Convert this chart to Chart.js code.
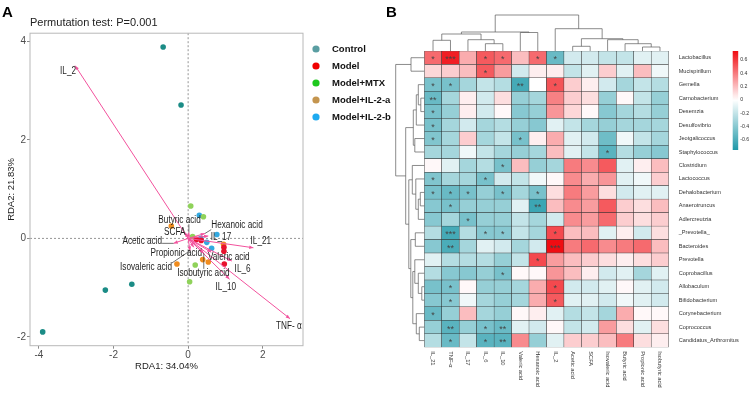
<!DOCTYPE html>
<html>
<head>
<meta charset="utf-8">
<script src="https://cdn.jsdelivr.net/npm/chart.js@4.4.1/dist/chart.umd.min.js"></script>
<style>
  html, body { margin: 0; padding: 0; background: #fff; }
  #wrap { position: relative; width: 750px; height: 394px; overflow: hidden; }
  #rdaChart { position: absolute; left: 0; top: 0; }
  #heatChart { position: absolute; left: 380px; top: 0; }
</style>
</head>
<body>
<div id="wrap">
  <canvas id="rdaChart" width="400" height="394"></canvas>
  <canvas id="heatChart" width="370" height="394"></canvas>
</div>
<script>
// ---------- Panel A: RDA biplot ----------
const groupNames = ['Control', 'Model', 'Model+MTX', 'Model+IL-2-a', 'Model+IL-2-b'];
const controlPts = [[-0.67, 3.89], [-0.19, 2.71], [-1.51, -0.93], [-2.22, -1.05], [-3.90, -1.90]];
const modelPts = [[0.96, -0.18], [0.96, -0.26], [0.97, -0.52], [0.35, -0.04], [0.22, -0.02]];
const mtxPts = [[0.07, 0.66], [0.41, 0.44], [0.19, -0.54], [0.04, -0.88], [0.12, 0.04]];
const il2aPts = [[-0.45, 0.25], [-0.30, -0.52], [0.39, -0.43], [0.54, -0.48], [0.95, -0.12]];
const il2bPts = [[0.30, 0.47], [0.77, 0.08], [0.34, 0.00], [0.63, -0.20], [0.50, -0.08]];

// environmental vectors (arrow tips)
const envNames = ['IL_2', 'TNF- α', 'IL_21', 'IL_10', 'IL_6', 'IL_17', 'Hexanoic acid', 'Valeric acid',
  'Acetic acid', 'Isovaleric acid', 'Propionic acid', 'Isobutyric acid', 'Butyric acid', 'SCFA'];
const envX = [-3.03, 2.73, 1.75, 1.11, 1.17, 0.54, 0.45, 0.62, -0.39, 0.05, 0.15, 0.42, 0.02, -0.08];
const envY = [3.51, -1.63, -0.19, -0.83, -0.46, 0.05, 0.10, -0.28, -0.10, -0.25, -0.18, -0.30, 0.12, 0.12];

const xTicks = [-4, -2, 0, 2];
const yTicks = [-2, 0, 2, 4];

// ---------- Panel B: correlation heatmap ----------
const colNames = ['IL_21', 'TNF-α', 'IL_17', 'IL_6', 'IL_10', 'Valeric acid', 'Hexanoic acid', 'IL_2',
  'Acetic acid', 'SCFA', 'Isovaleric acid', 'Butyric acid', 'Propionic acid', 'Isobutyric acid'];
const rowNames = ['Lactobacillus', 'Mucispirillum', 'Gemella', 'Carnobacterium', 'Desemzia', 'Desulfovibrio',
  'Jeotgalicoccus', 'Staphylococcus', 'Clostridium', 'Lactococcus', 'Dehalobacterium', 'Anaerotruncus',
  'Adlercreutzia', '_Prevotella_', 'Bacteroides', 'Prevotella', 'Coprobacillus', 'Allobaculum',
  'Bifidobacterium', 'Corynebacterium', 'Coprococcus', 'Candidatus_Arthromitus'];
const corrValues = [
  [0.45, 0.68, 0.25, 0.50, 0.45, 0.20, 0.45, -0.50, -0.15, -0.15, -0.20, -0.20, -0.10, -0.10],
  [0.12, 0.15, 0.20, 0.50, 0.30, -0.15, 0.05, 0.05, -0.20, -0.10, 0.15, -0.10, 0.20, -0.05],
  [-0.45, -0.45, -0.30, -0.20, -0.25, -0.62, 0.00, 0.52, 0.15, 0.05, -0.15, -0.30, -0.20, -0.25],
  [-0.50, -0.30, 0.05, -0.15, 0.10, -0.35, -0.30, 0.38, 0.15, 0.10, -0.35, 0.02, -0.20, -0.35],
  [-0.45, -0.35, 0.05, -0.15, 0.02, -0.40, -0.35, 0.32, 0.12, 0.02, -0.40, -0.30, -0.25, -0.35],
  [-0.45, -0.30, -0.15, -0.30, -0.25, -0.35, -0.40, -0.10, -0.20, -0.30, -0.35, -0.30, -0.30, -0.30],
  [-0.42, -0.30, 0.15, -0.30, -0.20, -0.45, 0.05, 0.25, -0.10, -0.15, -0.48, -0.05, -0.20, -0.30],
  [-0.30, -0.30, -0.05, -0.20, -0.30, -0.35, -0.30, 0.20, -0.10, -0.20, -0.55, -0.25, -0.35, -0.40],
  [0.02, -0.10, -0.30, -0.25, -0.45, 0.20, -0.35, -0.30, 0.40, 0.35, 0.50, -0.10, 0.05, 0.20],
  [-0.42, -0.30, -0.30, -0.45, -0.15, -0.20, -0.05, 0.02, 0.35, 0.25, 0.32, -0.10, -0.05, 0.15],
  [-0.45, -0.50, -0.45, -0.35, -0.45, -0.30, -0.45, 0.10, 0.40, 0.30, 0.10, -0.15, -0.10, -0.10],
  [-0.40, -0.45, -0.35, -0.35, -0.35, -0.10, -0.65, 0.20, 0.35, 0.30, 0.50, 0.15, 0.10, 0.20],
  [-0.40, -0.30, -0.45, -0.35, -0.35, -0.20, -0.30, -0.15, 0.35, 0.30, 0.45, 0.15, 0.10, 0.15],
  [-0.25, -0.62, -0.25, -0.40, -0.40, -0.20, -0.30, 0.55, 0.20, 0.20, -0.10, 0.05, -0.15, 0.10],
  [-0.40, -0.60, -0.30, -0.10, -0.15, -0.30, -0.15, 0.75, 0.40, 0.45, 0.35, 0.40, 0.45, 0.20],
  [-0.10, -0.25, -0.25, -0.25, -0.35, -0.20, 0.55, 0.30, 0.20, 0.15, 0.10, 0.05, 0.10, 0.15],
  [-0.25, -0.40, -0.40, -0.35, -0.45, 0.02, 0.02, 0.32, 0.20, 0.05, -0.15, -0.10, -0.30, -0.10],
  [-0.45, -0.45, 0.02, -0.35, -0.35, -0.30, 0.25, 0.55, -0.15, -0.15, -0.10, 0.02, -0.10, -0.15],
  [-0.40, -0.40, -0.05, -0.30, -0.35, -0.30, 0.25, 0.50, -0.10, -0.10, -0.15, -0.05, -0.10, -0.15],
  [-0.50, -0.35, 0.20, -0.30, -0.35, 0.02, 0.05, -0.10, -0.25, -0.20, -0.30, 0.25, 0.02, 0.02],
  [-0.35, -0.55, -0.35, -0.45, -0.50, -0.10, -0.15, 0.02, -0.20, -0.15, 0.30, 0.10, -0.10, 0.10],
  [-0.25, -0.50, -0.20, -0.55, -0.55, 0.35, -0.35, -0.10, 0.15, 0.15, 0.20, 0.40, 0.10, 0.05]
];
const starMarks = [
  ['*', '***', '', '*', '*', '', '*', '*', '', '', '', '', '', ''],
  ['', '', '', '*', '', '', '', '', '', '', '', '', '', ''],
  ['*', '*', '', '', '', '**', '', '*', '', '', '', '', '', ''],
  ['**', '', '', '', '', '', '', '', '', '', '', '', '', ''],
  ['*', '', '', '', '', '', '', '', '', '', '', '', '', ''],
  ['*', '', '', '', '', '', '', '', '', '', '', '', '', ''],
  ['*', '', '', '', '', '*', '', '', '', '', '', '', '', ''],
  ['', '', '', '', '', '', '', '', '', '', '*', '', '', ''],
  ['', '', '', '', '*', '', '', '', '', '', '', '', '', ''],
  ['*', '', '', '*', '', '', '', '', '', '', '', '', '', ''],
  ['*', '*', '*', '', '*', '', '*', '', '', '', '', '', '', ''],
  ['', '*', '', '', '', '', '**', '', '', '', '', '', '', ''],
  ['', '', '*', '', '', '', '', '', '', '', '', '', '', ''],
  ['', '***', '', '*', '*', '', '', '*', '', '', '', '', '', ''],
  ['', '**', '', '', '', '', '', '***', '', '', '', '', '', ''],
  ['', '', '', '', '', '', '*', '', '', '', '', '', '', ''],
  ['', '', '', '', '*', '', '', '', '', '', '', '', '', ''],
  ['', '*', '', '', '', '', '', '*', '', '', '', '', '', ''],
  ['', '*', '', '', '', '', '', '*', '', '', '', '', '', ''],
  ['*', '', '', '', '', '', '', '', '', '', '', '', '', ''],
  ['', '**', '', '*', '**', '', '', '', '', '', '', '', '', ''],
  ['', '*', '', '*', '**', '', '', '', '', '', '', '', '', '']
];
// hclust-style merges: negative = leaf (1-based), positive = earlier merge step
const colMerge = [[-1, -2], [-4, -5], [-3, 2], [1, 3], [-6, -7], [4, 5], [-9, -10], [-13, -14],
  [-12, 8], [-11, 9], [7, 10], [-8, 11], [6, 12]];
const colHeights = [1.07, 0.73, 1.13, 1.70, 1.85, 1.90, 0.47, 0.40, 0.73, 1.13, 1.23, 2.23, 3.60];
const rowMerge = [[-1, -2], [-4, -5], [-3, 2], [-6, 3], [-7, -8], [4, 5], [-11, -12], [7, -13], [-10, 8],
  [-9, 9], [-14, -15], [-18, -19], [-17, 12], [-16, 13], [-21, -22], [-20, 15], [14, 16], [11, 17],
  [10, 18], [6, 19], [1, 20]];
const rowHeights = [1.33, 0.35, 0.60, 0.80, 0.95, 1.10, 0.40, 0.60, 0.85, 1.20, 0.90, 0.25, 0.60, 0.95,
  0.50, 0.80, 1.15, 1.35, 1.55, 1.86, 2.86];
const colorbarTicks = [0.6, 0.4, 0.2, 0, -0.2, -0.4, -0.6];

const SANS = '"Liberation Sans", Arial, sans-serif';
Chart.defaults.font.family = SANS;

const PINK = '#f2529d';
const SQUEEZE = 0.82; // the source figure's text is horizontally condensed

// ---------- helpers ----------
function heatColor(v) {
  const lo = [30, 152, 168], hi = [240, 12, 18], mid = [255, 255, 255];
  const t = v >= 0 ? Math.min(v / 0.735, 1) : Math.min(-v / 0.75, 1);
  const end = v >= 0 ? hi : lo;
  const c = mid.map((m, k) => Math.round(m + (end[k] - m) * t));
  return `rgb(${c[0]},${c[1]},${c[2]})`;
}

function drawDendro(ctx, merge, heights, leafPos, base, unit, top) {
  const nodes = [];
  const at = (ref) => ref < 0 ? { c: leafPos(-ref - 1), h: 0 } : nodes[ref - 1];
  merge.forEach(([a, b], k) => {
    const A = at(a), B = at(b), h = heights[k];
    const P = (hh) => base - hh * unit;
    ctx.beginPath();
    if (top) {
      ctx.moveTo(A.c, P(A.h)); ctx.lineTo(A.c, P(h)); ctx.lineTo(B.c, P(h)); ctx.lineTo(B.c, P(B.h));
    } else {
      ctx.moveTo(P(A.h), A.c); ctx.lineTo(P(h), A.c); ctx.lineTo(P(h), B.c); ctx.lineTo(P(B.h), B.c);
    }
    ctx.stroke();
    nodes.push({ c: (A.c + B.c) / 2, h });
  });
}

// ---------- Panel A plugin ----------
const rdaDecor = {
  id: 'rdaDecor',
  beforeDatasetsDraw(chart) {
    const { ctx, chartArea: a, scales: { x, y } } = chart;
    const x0 = x.getPixelForValue(0), y0 = y.getPixelForValue(0);
    ctx.save();
    ctx.strokeStyle = '#8a8a8a';
    ctx.lineWidth = 0.9;
    ctx.setLineDash([2, 2]);
    ctx.beginPath();
    ctx.moveTo(x0, a.top); ctx.lineTo(x0, a.bottom);
    ctx.moveTo(a.left, y0); ctx.lineTo(a.right, y0);
    ctx.stroke();
    ctx.restore();
  },
  afterDatasetsDraw(chart, args, opts) {
    const { ctx, scales: { x, y } } = chart;
    ctx.save();
    chart.data.datasets.forEach((ds, i) => {
      if (!ds.isArrow) return;
      const pts = chart.getDatasetMeta(i).data;
      const p0 = pts[0], p1 = pts[1];
      const ang = Math.atan2(p1.y - p0.y, p1.x - p0.x);
      ctx.fillStyle = PINK;
      ctx.beginPath();
      ctx.moveTo(p1.x, p1.y);
      ctx.lineTo(p1.x - 4.5 * Math.cos(ang - 0.4), p1.y - 4.5 * Math.sin(ang - 0.4));
      ctx.lineTo(p1.x - 4.5 * Math.cos(ang + 0.4), p1.y - 4.5 * Math.sin(ang + 0.4));
      ctx.closePath();
      ctx.fill();

      const spot = opts.labelSpots[ds.label];
      const lx = x.getPixelForValue(spot[0]), ly = y.getPixelForValue(spot[1]);
      ctx.font = `10px ${SANS}`;
      const w = ctx.measureText(ds.label).width * SQUEEZE, h = 8;
      const nx = Math.max(lx - w / 2, Math.min(p1.x, lx + w / 2));
      const ny = Math.max(ly - h / 2, Math.min(p1.y, ly + h / 2));
      if (Math.hypot(nx - p1.x, ny - p1.y) > 5) {
        ctx.strokeStyle = '#333';
        ctx.lineWidth = 0.7;
        ctx.beginPath(); ctx.moveTo(nx, ny); ctx.lineTo(p1.x, p1.y); ctx.stroke();
      }
      ctx.save();
      ctx.translate(lx, ly);
      ctx.scale(SQUEEZE, 1);
      ctx.fillStyle = '#1e1e1e';
      ctx.textAlign = 'center';
      ctx.textBaseline = 'middle';
      ctx.fillText(ds.label, 0, 0);
      ctx.restore();
    });
    ctx.restore();
  },
  afterDraw(chart, args, opts) {
    const { ctx, chartArea: a } = chart;
    ctx.save();
    ctx.strokeStyle = '#b8b8b8';
    ctx.lineWidth = 1;
    ctx.strokeRect(a.left, a.top, a.right - a.left, a.bottom - a.top);
    ctx.fillStyle = '#000';
    ctx.font = `bold 15px ${SANS}`;
    ctx.textBaseline = 'alphabetic';
    ctx.fillText('A', 2, 17);
    // legend
    const items = chart.data.datasets.filter(d => d.legendColor);
    items.forEach((d, k) => {
      const cy = opts.legendTop + k * opts.legendGap;
      const cx = a.right + 13;
      ctx.fillStyle = d.legendColor;
      ctx.beginPath(); ctx.arc(cx, cy, 3.6, 0, Math.PI * 2); ctx.fill();
      ctx.fillStyle = '#111';
      ctx.font = `bold 9.5px ${SANS}`;
      ctx.textAlign = 'left';
      ctx.textBaseline = 'middle';
      ctx.fillText(d.label, cx + 16, cy);
    });
    ctx.restore();
  }
};

const pointSets = [controlPts, modelPts, mtxPts, il2aPts, il2bPts];
const pointColors = ['#1b8c86', '#e8112d', '#8fd25a', '#f08c1e', '#33a9e0'];
const legendColors = ['#5a9ea2', '#f00000', '#1ec81e', '#c4954f', '#1eaaf0'];

const arrowDatasets = envNames.map((name, i) => ({
  label: name,
  isArrow: true,
  data: [{ x: 0, y: 0 }, { x: envX[i], y: envY[i] }],
  showLine: true,
  borderColor: PINK,
  borderWidth: 1,
  pointRadius: 0
}));
const groupDatasets = groupNames.map((name, g) => ({
  label: name,
  legendColor: legendColors[g],
  data: pointSets[g].map(p => ({ x: p[0], y: p[1] })),
  backgroundColor: pointColors[g],
  borderWidth: 0,
  pointRadius: 2.8
}));

new Chart(document.getElementById('rdaChart'), {
  type: 'scatter',
  data: { datasets: [...arrowDatasets, ...groupDatasets] },
  options: {
    responsive: false,
    animation: false,
    events: [],
    layout: { padding: { left: 0, right: 97, top: 0, bottom: 19 } },
    scales: {
      x: {
        type: 'linear', min: -4.24, max: 3.08,
        afterBuildTicks: (ax) => { ax.ticks = xTicks.map(v => ({ value: v })); },
        afterFit: (s) => { s.height = 29.3; },
        ticks: { color: '#4d4d4d', font: { size: 10 }, padding: 1 },
        grid: { display: true, drawOnChartArea: false, drawTicks: true, tickLength: 3, color: '#8a8a8a' },
        border: { display: false },
        title: { display: true, text: 'RDA1: 34.04%', color: '#222', font: { size: 9.5 }, padding: { top: 1, bottom: 3 } }
      },
      y: {
        type: 'linear', min: -2.18, max: 4.17,
        afterBuildTicks: (ax) => { ax.ticks = yTicks.map(v => ({ value: v })); },
        afterFit: (s) => { s.width = 30; },
        ticks: { color: '#4d4d4d', font: { size: 10 }, padding: 1 },
        grid: { display: true, drawOnChartArea: false, drawTicks: true, tickLength: 3, color: '#8a8a8a' },
        border: { display: false },
        title: { display: true, text: 'RDA2: 21.83%', color: '#222', font: { size: 9.5 }, padding: { top: 6, bottom: 0 } }
      }
    },
    plugins: {
      legend: { display: false },
      tooltip: { enabled: false },
      title: {
        display: true, fullSize: false, align: 'start', text: 'Permutation test: P=0.001',
        color: '#222', font: { size: 11, weight: 'normal' }, padding: { top: 16, bottom: 4 }
      },
      rdaDecor: {
        legendTop: 49, legendGap: 17,
        labelSpots: {
          'IL_2': [-3.22, 3.39], 'TNF- α': [2.70, -1.78], 'IL_21': [1.95, -0.06], 'IL_10': [1.01, -1.00],
          'IL_6': [1.46, -0.62], 'IL_17': [0.88, 0.02], 'Hexanoic acid': [1.31, 0.26], 'Valeric acid': [1.09, -0.38],
          'Acetic acid': [-1.23, -0.05], 'Isovaleric acid': [-1.13, -0.58], 'Propionic acid': [-0.32, -0.30],
          'Isobutyric acid': [0.41, -0.70], 'Butyric acid': [-0.23, 0.37], 'SCFA': [-0.36, 0.12]
        }
      }
    }
  },
  plugins: [rdaDecor]
});

// ---------- Panel B plugin ----------
const heatDecor = {
  id: 'heatDecor',
  afterDatasetsDraw(chart) {
    const { ctx } = chart;
    ctx.save();
    ctx.fillStyle = '#444';
    ctx.font = `9px ${SANS}`;
    ctx.textAlign = 'center';
    ctx.textBaseline = 'middle';
    chart.data.datasets.forEach((ds, i) => {
      chart.getDatasetMeta(i).data.forEach((bar, j) => {
        const s = ds.stars[j];
        if (s) ctx.fillText(s, bar.x, (bar.y + bar.base) / 2 + 2);
      });
    });
    ctx.restore();
  },
  afterDraw(chart) {
    const { ctx, chartArea: a, scales: { x, y } } = chart;
    ctx.save();
    ctx.strokeStyle = '#5a5a5a';
    ctx.lineWidth = 0.7;
    drawDendro(ctx, colMerge, colHeights, (j) => x.getPixelForValue(j), a.top, 10, true);
    drawDendro(ctx, rowMerge, rowHeights, (i) => y.getPixelForValue(rowNames.length - 0.5 - i), a.left, 10, false);

    // column labels, rotated clockwise
    ctx.fillStyle = '#333';
    ctx.font = `5.7px ${SANS}`;
    ctx.textAlign = 'left';
    ctx.textBaseline = 'middle';
    colNames.forEach((name, j) => {
      ctx.save();
      ctx.translate(x.getPixelForValue(j), a.bottom + 4);
      ctx.rotate(Math.PI / 2);
      ctx.fillText(name, 0, 0);
      ctx.restore();
    });

    // colour key
    const cbX = a.right + 64, cbTop = a.top, cbH = 99, vTop = 0.735, vBot = -0.75;
    const grad = ctx.createLinearGradient(0, cbTop, 0, cbTop + cbH);
    for (let k = 0; k <= 20; k++) {
      const v = vTop - (vTop - vBot) * k / 20;
      grad.addColorStop(k / 20, heatColor(v));
    }
    ctx.fillStyle = grad;
    ctx.fillRect(cbX, cbTop, 5.5, cbH);
    ctx.fillStyle = '#333';
    ctx.font = `5.2px ${SANS}`;
    colorbarTicks.forEach(v => {
      const py = cbTop + (vTop - v) / (vTop - vBot) * cbH;
      ctx.fillText(String(v), cbX + 7.5, py);
    });

    ctx.fillStyle = '#000';
    ctx.font = `bold 15px ${SANS}`;
    ctx.textBaseline = 'alphabetic';
    ctx.fillText('B', 6, 17);
    ctx.restore();
  }
};

const heatDatasets = rowNames.map((name, i) => ({
  label: name,
  data: colNames.map(() => 1),
  backgroundColor: corrValues[i].map(heatColor),
  borderColor: '#2e2e2e',
  borderWidth: 0.5,
  borderSkipped: false,
  barPercentage: 1,
  categoryPercentage: 1,
  stars: starMarks[i]
})).reverse();

new Chart(document.getElementById('heatChart'), {
  type: 'bar',
  data: { labels: colNames, datasets: heatDatasets },
  options: {
    responsive: false,
    animation: false,
    events: [],
    layout: { padding: { left: 44.3, top: 51, right: 0, bottom: 46.7 } },
    scales: {
      x: { type: 'category', stacked: true, display: false },
      y: {
        type: 'linear', stacked: true, min: 0, max: rowNames.length, position: 'right',
        afterBuildTicks: (ax) => { ax.ticks = rowNames.map((n, i) => ({ value: rowNames.length - 0.5 - i })); },
        afterFit: (s) => { s.width = 81.3; },
        ticks: {
          autoSkip: false, padding: 2, color: '#333', font: { size: 5.6 },
          callback: (v) => rowNames[Math.round(rowNames.length - 0.5 - v)]
        },
        grid: { display: false },
        border: { display: false }
      }
    },
    plugins: { legend: { display: false }, tooltip: { enabled: false } }
  },
  plugins: [heatDecor]
});
</script>
</body>
</html>
